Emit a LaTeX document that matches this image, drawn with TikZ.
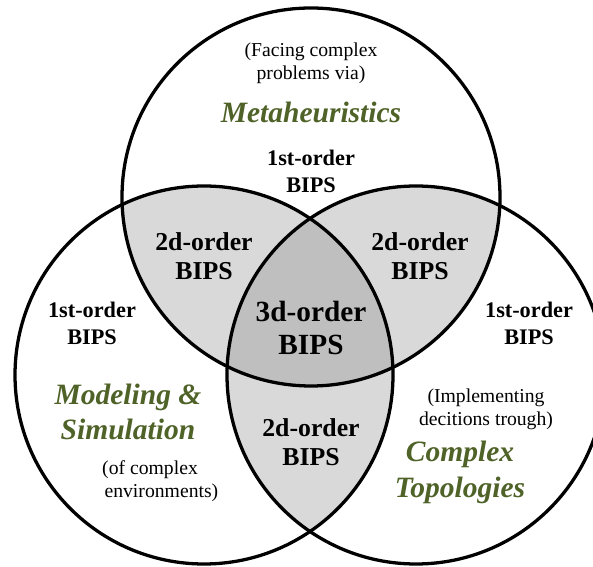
\documentclass[tikz,border=0pt]{standalone}
\usepackage{fontspec}
\setmainfont{Liberation Serif}
\usepackage{tikz}
\usetikzlibrary{positioning}
\definecolor{olivegreen}{RGB}{79,98,40}
\definecolor{twofill}{RGB}{217,217,217}
\definecolor{threefill}{RGB}{191,191,191}
\def\topset{(9.33, 11.07) circle (5.67)}
\def\leftset{(6.12, 5.73) circle (5.67)}
\def\rightset{(12.48, 5.73) circle (5.67)}
\tikzset{
	ring/.style={line width=2.8pt, color=black},
	firstord/.style={font=\fontsize{19}{23}\selectfont\bfseries, align=center, inner sep=0pt},
	secondord/.style={font=\fontsize{22}{25}\selectfont\bfseries, align=center, inner sep=0pt},
	thirdord/.style={font=\fontsize{25}{28}\selectfont\bfseries, align=center, inner sep=0pt},
	field/.style={font=\fontsize{25.2}{30}\selectfont\bfseries\itshape, text=olivegreen, align=center, inner sep=0pt},
	remark/.style={font=\fontsize{16.8}{19.6}\selectfont, align=center, inner sep=0pt}
}

\begin{document}
\begin{tikzpicture}
		%%%%% START %%%%%
		\useasboundingbox (0, 0) rectangle (17.79, 16.98);
		
		% overlaps of two sets
		\begin{scope}
			\clip \topset;
			\fill[twofill] \leftset;
			\fill[twofill] \rightset;
		\end{scope}
		\begin{scope}
			\clip \leftset;
			\fill[twofill] \rightset;
		\end{scope}
		
		% overlap of all three
		\begin{scope}
			\clip \topset;
			\clip \leftset;
			\fill[threefill] \rightset;
		\end{scope}
		
		\draw[ring] \topset;
		\draw[ring] \leftset;
		\draw[ring] \rightset;
		
		\node[remark] (metanote) at (9.33, 15.08) {(Facing complex\\problems via)};
		\node[field] (meta) at (9.33, 13.62) {Metaheuristics};
		\node[firstord] (metafirst) at (9.33, 11.84) {1st-order\\BIPS};
		
		\node[secondord] (secondtl) at (6.12, 9.30) {2d-order\\BIPS};
		\node[secondord] (secondtr) at (12.60, 9.30) {2d-order\\BIPS};
		\node[thirdord] (third) at (9.33, 7.13) {3d-order\\BIPS};
		\node[secondord] (secondb) at (9.33, 3.71) {2d-order\\BIPS};
		
		\node[firstord] (modfirst) at (2.76, 7.29) {1st-order\\BIPS};
		\node[field] (model) at (3.84, 4.61) {Modeling \&\\Simulation};
		\node[remark, align=left, anchor=west] (modnote) at (3.06, 2.54) {(of complex\\\hspace{2pt}environments)};
		
		\node[firstord] (topofirst) at (15.87, 7.29) {1st-order\\BIPS};
		\node[remark] (toponote) at (14.58, 4.70) {(Implementing\\decitions trough)};
		\node[field] (topo) at (13.80, 2.81) {Complex\\Topologies};
		
		%%%%% END %%%%%
	\end{tikzpicture}
\end{document}
